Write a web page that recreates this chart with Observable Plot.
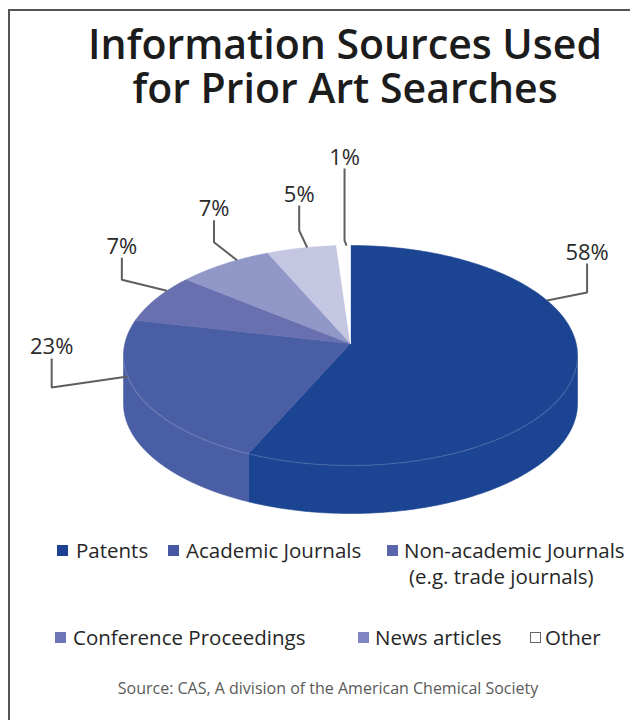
<!DOCTYPE html>
<html>
<head>
<meta charset="utf-8">
<script src="https://cdn.jsdelivr.net/npm/d3@7"></script>
<script src="https://cdn.jsdelivr.net/npm/@observablehq/plot@0.6"></script>
<style>
  body { margin: 0; background: #fff; font-family: "Open Sans", sans-serif; }
  #wrap { position: relative; width: 630px; height: 720px; overflow: hidden; background: #fff; }
  #frame { position: absolute; left: 8px; top: 9px; width: 800px; height: 800px;
           border-top: 2px solid #555; border-left: 2px solid #555; }
  .tline { position: absolute; left: 60px; width: 570px; height: 44px; text-align: center;
           font-weight: 600; font-size: 41px; line-height: 44px; color: #1c1c1c; margin: 0; white-space: nowrap; }
  #chart { position: absolute; left: 0; top: 120px; }
  .leg { position: absolute; font-size: 20.5px; line-height: 24px; color: #262626; white-space: nowrap; }
  .sw { position: absolute; width: 11px; height: 11px; }
  #source { position: absolute; left: 60px; width: 536px; text-align: center; font-size: 16px; line-height: 20px;
            color: #5a5a5a; top: 678px; white-space: nowrap; }
</style>
</head>
<body>
<div id="wrap">
  <div id="frame"></div>
  <div id="title"></div>
  <div id="chart"></div>
  <div id="legend"></div>
  <div id="source"></div>
</div>
<script>
// ---------- data ----------
const titleLines = ["Information Sources Used", "for Prior Art Searches"];
const categories = ["Patents", "Academic Journals", "Non-academic Journals", "Conference Proceedings", "News articles", "Other"];
const shares = [58, 23, 7, 7, 5, 1];
const shareLabels = ["58%", "23%", "7%", "7%", "5%", "1%"];
const legendLines = [["Patents"], ["Academic Journals"], ["Non-academic Journals", "(e.g. trade journals)"],
                     ["Conference Proceedings"], ["News articles"], ["Other"]];
const sourceText = "Source: CAS, A division of the American Chemical Society";

// ---------- style / layout ----------
const sliceColors = ["#1b4492", "#4a5ea5", "#6870b0", "#9197c7", "#c4c6e2", "#ffffff"];
const legendColors = ["#1c4190", "#4658a4", "#5b65ad", "#6e75b6", "#7f86c1", "#ffffff"];
const pie3d = { cx: 350, cy: 355, rx: 227, ry: 110, apexDy: -12, depth: 48 };
const leaderLayout = [
  { angle: 60,  dx: 40,  dy: -8,  rise: 29 },
  { angle: 259, dx: -76, dy: 11,  rise: 29 },
  { angle: 306, dx: -45, dy: -11, rise: 22 },
  { angle: 330, dx: -23, dy: -18, rise: 22 },
  { angle: 349, dx: -8,  dy: -17, rise: 25 },
  { angle: 359, dx: -2,  dy: -5,  rise: 72 }
];
const legendLayout = [
  { sx: 57,  tx: 76,  top: 538 },
  { sx: 168, tx: 186, top: 538 },
  { sx: 387, tx: 404, top: 538 },
  { sx: 55,  tx: 73,  top: 625 },
  { sx: 358, tx: 375, top: 625 },
  { sx: 530, tx: 545, top: 625 }
];

// ---------- title / legend / source ----------
const titleBox = document.getElementById("title");
titleLines.forEach((line, i) => {
  const d = document.createElement("div");
  d.className = "tline";
  d.style.top = (21 + i * 44) + "px";
  d.textContent = line;
  titleBox.appendChild(d);
});
document.getElementById("source").textContent = sourceText;
const legend = document.getElementById("legend");
categories.forEach((c, i) => {
  const L = legendLayout[i];
  const sw = document.createElement("div");
  sw.className = "sw";
  sw.style.left = L.sx + "px";
  sw.style.top = (L.top + 7) + "px";
  sw.style.background = legendColors[i];
  if (legendColors[i] === "#ffffff") { sw.style.border = "1px solid #666"; sw.style.width = "9px"; sw.style.height = "9px"; }
  legend.appendChild(sw);
  legendLines[i].forEach((line, j) => {
    const t = document.createElement("div");
    t.className = "leg";
    t.style.left = (L.tx + (j > 0 ? 5 : 0)) + "px";
    t.style.top = (L.top + j * 26) + "px";
    t.textContent = line;
    legend.appendChild(t);
  });
});

// ---------- pie geometry from data ----------
const arcs = d3.pie().sort(null).value(d => d)(shares); // radians, 0 = 12 o'clock, clockwise
const deg = r => r * 180 / Math.PI;
const pt = (a, dy = 0) => {
  const r = a * Math.PI / 180;
  return { x: pie3d.cx + pie3d.rx * Math.sin(r), y: pie3d.cy - pie3d.ry * Math.cos(r) + dy };
};
const arcPts = (a0, a1, dy = 0) => {
  const n = Math.max(2, Math.ceil(Math.abs(a1 - a0) / 0.5));
  return d3.range(n + 1).map(k => pt(a0 + (a1 - a0) * k / n, dy));
};

const topFaces = [], sides = [], rims = [];
arcs.forEach((a, i) => {
  const cat = categories[i];
  const a0 = deg(a.startAngle), a1 = deg(a.endAngle);
  const apex = { x: pie3d.cx, y: pie3d.cy + pie3d.apexDy };
  [apex, ...arcPts(a0, a1), apex].forEach((p, k) => topFaces.push({ ...p, cat, k }));
  const s0 = Math.max(a0, 90), s1 = Math.min(a1, 270);
  if (s1 > s0) {
    const poly = [...arcPts(s0, s1), ...arcPts(s1, s0, pie3d.depth)];
    poly.push(poly[0]);
    poly.forEach((p, k) => sides.push({ ...p, cat, k }));
    arcPts(s0, s1).forEach((p, k) => rims.push({ ...p, cat, k }));
  }
});

const leaders = [], labelPts = [];
arcs.forEach((a, i) => {
  const L = leaderLayout[i];
  const p0 = pt(L.angle);
  const p1 = { x: p0.x + L.dx, y: p0.y + L.dy };
  const p2 = { x: p1.x, y: p1.y - L.rise };
  [p0, p1, p2].forEach((p, k) => leaders.push({ ...p, cat: categories[i], k }));
  labelPts.push({ x: p2.x, y: p2.y - 4, label: shareLabels[i] });
});

const chart = Plot.plot({
  width: 630,
  height: 410,
  margin: 0,
  style: { fontFamily: "Open Sans", background: "transparent" },
  x: { domain: [0, 630], range: [0, 630], axis: null },
  y: { domain: [120, 530], range: [0, 410], axis: null },
  color: { domain: categories, range: sliceColors },
  marks: [
    Plot.line(sides, { x: "x", y: "y", z: "cat", fill: "cat", stroke: "cat", strokeWidth: 0.6, curve: "linear" }),
    Plot.line(topFaces, { x: "x", y: "y", z: "cat", fill: "cat", stroke: "cat", strokeWidth: 0.6, curve: "linear" }),
    Plot.line(rims, { x: "x", y: "y", z: "cat", stroke: "#ffffff", strokeOpacity: 0.15, strokeWidth: 1.2, curve: "linear" }),
    Plot.line(leaders, { x: "x", y: "y", z: "cat", stroke: "#5f5f5f", strokeWidth: 2, strokeLinejoin: "miter", strokeLinecap: "butt" }),
    Plot.text(labelPts, { x: "x", y: "y", text: "label", fontSize: 22, fill: "#2a2a2a", lineAnchor: "bottom", textAnchor: "middle", letterSpacing: "-0.5px" })
  ]
});
document.getElementById("chart").appendChild(chart);
</script>
</body>
</html>
